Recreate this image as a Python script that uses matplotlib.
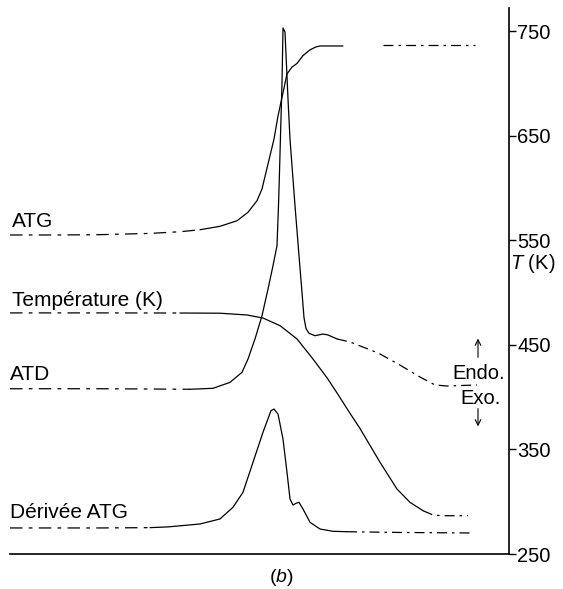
import numpy as np
import matplotlib.pyplot as plt

plt.rcParams['font.family'] = ['Liberation Sans', 'DejaVu Sans']
plt.rcParams['mathtext.fontset'] = 'custom'
plt.rcParams['mathtext.it'] = 'Liberation Sans:italic'
plt.rcParams['mathtext.rm'] = 'Liberation Sans'

# time axis is arbitrary (no scale in the original), T in K read off the scan
atg_t = [10, 60, 100, 150, 180, 200, 220, 237, 248, 257, 262, 266, 270, 274, 278, 283,
         287, 292, 297, 303, 310, 316, 320, 343, 383, 475]
atg_T = [555.0, 555.0, 555.3, 556.5, 558.1, 560.0, 563.3, 568.6, 576.7, 587.8, 599.0,
         614.9, 630.8, 646.7, 668.7, 691.0, 709.0, 715.5, 719.0, 726.5, 732.0, 734.8,
         735.7, 735.7, 736.6, 736.6]

temp_t = [10, 100, 180, 220, 247, 263, 280, 297, 313, 327, 338, 349, 360, 380, 397,
          410, 423, 433, 442, 468]
temp_T = [480.5, 480.5, 480.4, 480.2, 478.5, 475.6, 468.3, 455.6, 436.4, 418.5, 402.5,
          386.0, 370.0, 337.7, 312.1, 299.4, 291.4, 287.3, 286.6, 286.6]

atd_t = [10, 100, 190, 213, 230, 242, 248, 255, 262, 268, 273, 277, 278.5, 279.5, 280.5,
         282, 283, 285, 288, 290, 295, 299, 302, 304, 306, 309, 315, 323, 328, 337, 350,
         373, 380, 400, 420, 435, 447, 477]
atd_T = [408.0, 408.0, 407.5, 408.4, 414.1, 423.7, 436.4, 455.6, 477.8, 503.3, 525.6,
         544.7, 583.0, 614.9, 650.0, 700.0, 752.9, 749.0, 685.0, 646.7, 583.0, 535.2,
         500.0, 476.0, 465.5, 461.0, 458.7, 460.3, 459.4, 455.6, 452.7, 444.1, 441.2,
         430.6, 419.2, 411.6, 410.6, 411.6]

dtg_t = [10, 100, 150, 168, 200, 220, 233, 243, 253, 263, 271, 274, 278, 283, 287, 290,
         293, 296, 299, 303, 310, 320, 333, 347, 400, 470]
dtg_T = [274.9, 274.9, 275.2, 275.9, 278.7, 283.5, 294.7, 309.0, 337.7, 366.4, 387.0,
         388.6, 383.8, 359.9, 328.1, 302.6, 296.8, 298.5, 299.4, 293.0, 280.3, 273.9,
         271.7, 271.3, 270.6, 270.1]

yticks = [250, 350, 450, 550, 650, 750]

DASHED = (0, (10, 5, 3, 5))
DASHDOT = (0, (8, 4, 2, 4))


def draw(ax, t, v, pieces):
    t = np.asarray(t)
    v = np.asarray(v)
    for lo, hi, ls in pieces:
        m = (t >= lo) & (t <= hi)
        ax.plot(t[m], v[m], color='black', lw=0.9, ls=ls, solid_capstyle='round',
                solid_joinstyle='round')


fig = plt.figure(figsize=(5.63, 5.89), dpi=100)
ax = fig.add_axes([10 / 563, 35 / 589, 499 / 563, 546 / 589])
ax.set_xlim(10, 509)
ax.set_ylim(250, 772)

draw(ax, atg_t, atg_T, [(10, 200, DASHED), (200, 343, '-'), (383, 475, DASHDOT)])
draw(ax, temp_t, temp_T, [(10, 180, DASHED), (180, 423, '-'), (423, 468, DASHDOT)])
draw(ax, atd_t, atd_T, [(10, 190, DASHED), (190, 337, '-'), (337, 477, DASHDOT)])
draw(ax, dtg_t, dtg_T, [(10, 150, DASHED), (150, 347, '-'), (347, 470, DASHDOT)])

for s in ['top', 'left']:
    ax.spines[s].set_visible(False)
ax.spines['right'].set_linewidth(1.2)
ax.spines['bottom'].set_linewidth(1.2)
ax.set_xticks([])
ax.yaxis.tick_right()
ax.set_yticks(yticks)
ax.tick_params(axis='y', direction='out', length=5, width=1, labelsize=14.5, pad=1)

ax.text(12, 562.6, 'ATG', fontsize=15, va='baseline')
ax.text(12, 487.0, 'Température (K)', fontsize=15, va='baseline')
ax.text(10, 416.4, 'ATD', fontsize=15, va='baseline')
ax.text(10, 284.4, 'Dérivée ATG', fontsize=15, va='baseline')

ax.text(1.003, 528, r'$T$ (K)', transform=ax.get_yaxis_transform(), fontsize=14.5,
        va='center', ha='left', clip_on=False)

ax.text(479, 423, 'Endo.', fontsize=14.5, ha='center', va='center')
ax.text(481, 399, 'Exo.', fontsize=14.5, ha='center', va='center')
ax.annotate('', xy=(478, 456), xytext=(478, 438),
            arrowprops=dict(arrowstyle='->', lw=0.8, color='black', shrinkA=0, shrinkB=0))
ax.annotate('', xy=(478, 372), xytext=(478, 389),
            arrowprops=dict(arrowstyle='->', lw=0.8, color='black', shrinkA=0, shrinkB=0))

fig.text(281 / 563, 1 - 577 / 589, r'($b$)', fontsize=14, ha='center', va='center')

fig.savefig('out.png', dpi=100)
